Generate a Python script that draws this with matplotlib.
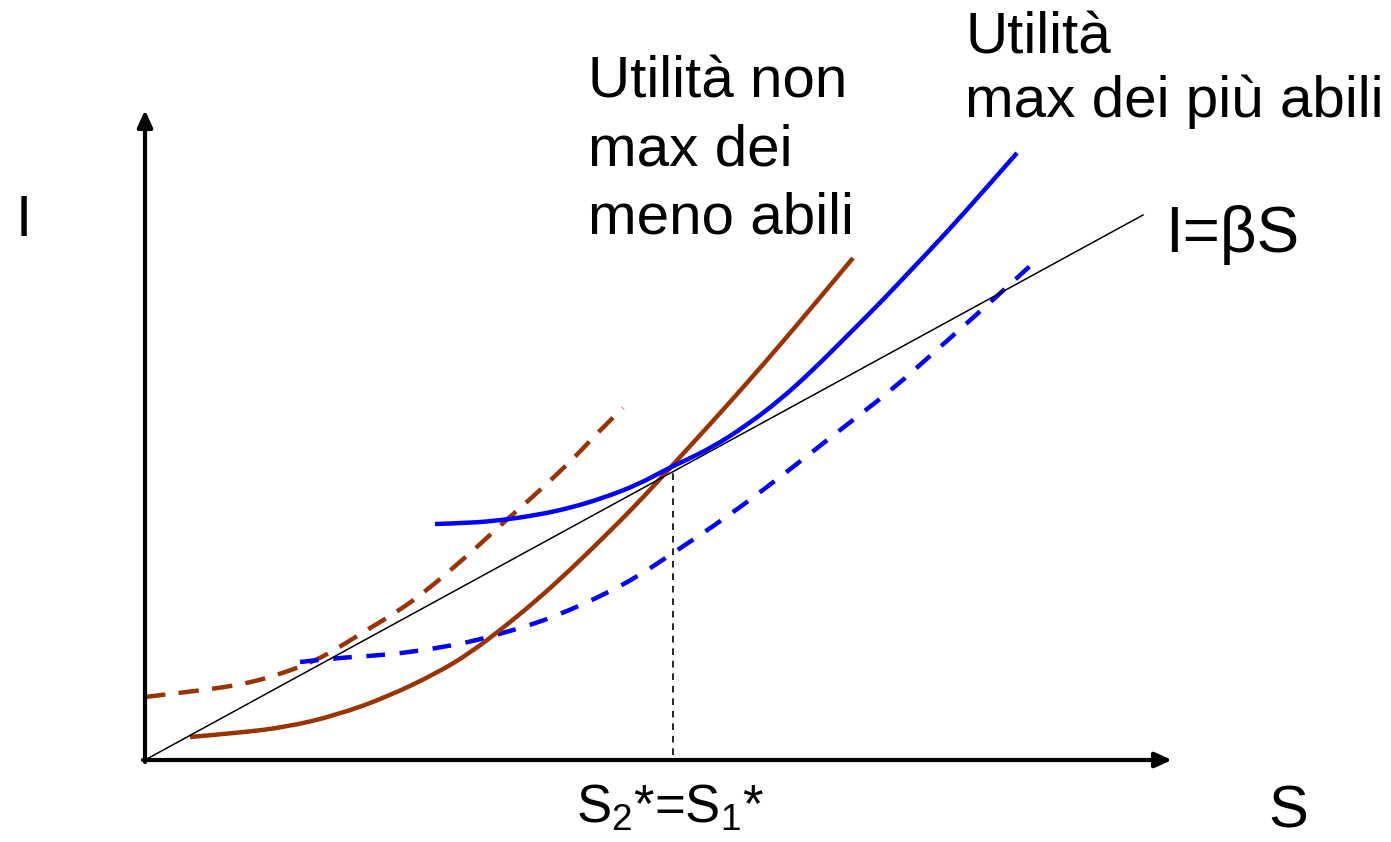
import matplotlib
matplotlib.use("Agg")
import matplotlib.pyplot as plt
from matplotlib.path import Path
from matplotlib.patches import PathPatch

plt.rcParams['font.family'] = ['Liberation Sans', 'DejaVu Sans']
plt.rcParams['mathtext.fontset'] = 'custom'
plt.rcParams['mathtext.rm'] = 'Liberation Sans'
plt.rcParams['mathtext.it'] = 'Liberation Sans'

BROWN = "#993300"
BLUE = "#0000ff"

# curve points (S, I), origin at the axes corner
line_S = [0, 998]
line_I = [0, 545]

blue_S = [290, 325, 358, 392, 425, 458, 492, 522, 535, 568, 602, 635, 668, 702, 735, 768, 802, 835, 872]
blue_I = [236, 237, 240, 245, 252, 262, 275, 291, 297, 313, 335, 360, 390, 424, 457, 492, 528, 565, 607]

blue_dash_S = [155, 192, 225, 258, 292, 325, 358, 392, 425, 458, 492, 528, 582, 638, 695, 748, 795, 848, 885]
blue_dash_I = [98, 102, 104, 107, 112, 118, 127, 137, 150, 165, 183, 207, 243, 285, 330, 371, 413, 460, 494]

brown_S = [45, 92, 142, 192, 242, 292, 325, 358, 392, 425, 458, 492, 525, 568, 602, 635, 668, 708]
brown_I = [23, 27, 33, 45, 63, 87, 107, 132, 160, 190, 222, 256, 292, 339, 377, 415, 454, 502]

brown_dash_S = [0, 33, 75, 108, 138, 168, 198, 225, 255, 282, 308, 332, 358, 382, 408, 432, 455, 478]
brown_dash_I = [63, 67, 72, 78, 87, 98, 115, 132, 150, 170, 192, 213, 237, 258, 282, 305, 330, 352]

S_star = 528


def smooth_curve(ax, xs, ys, **kw):
    # quadratic bezier pieces through the read points, drawn as one path
    pts = list(zip(xs, ys))
    verts = [pts[0]]
    codes = [Path.MOVETO]
    for i in range(1, len(pts) - 1):
        nxt = pts[-1] if i == len(pts) - 2 else ((pts[i][0] + pts[i + 1][0]) / 2,
                                                  (pts[i][1] + pts[i + 1][1]) / 2)
        verts += [pts[i], nxt]
        codes += [Path.CURVE3, Path.CURVE3]
    patch = PathPatch(Path(verts, codes), fill=False, capstyle='butt', **kw)
    ax.add_patch(patch)
    return patch


fig = plt.figure(figsize=(13.91, 8.42), dpi=100)
ax = fig.add_axes([0, 0, 1, 1])
ax.set_xlim(-145, 1391 - 145)
ax.set_ylim(760 - 842, 760)
ax.axis('off')

# axes with arrows
ax.annotate('', xy=(1027, 0), xytext=(-2, 0),
            arrowprops=dict(arrowstyle='-|>,head_length=1.0,head_width=0.45',
                            lw=3, color='black', shrinkA=0, shrinkB=0))
ax.annotate('', xy=(0, 650), xytext=(0, -2),
            arrowprops=dict(arrowstyle='-|>,head_length=1.0,head_width=0.45',
                            lw=3, color='black', shrinkA=0, shrinkB=0))

ax.plot(line_S, line_I, color='black', lw=1.1)

smooth_curve(ax, brown_dash_S, brown_dash_I, edgecolor=BROWN, lw=3.2, linestyle=(0, (4.6, 3.0)))
smooth_curve(ax, blue_dash_S, blue_dash_I, edgecolor=BLUE, lw=3.2, linestyle=(0, (4.2, 3.3)))
smooth_curve(ax, brown_S, brown_I, edgecolor=BROWN, lw=3.2)
smooth_curve(ax, blue_S, blue_I, edgecolor=BLUE, lw=3.2)

ax.plot([S_star, S_star], [5, 288], color='black', lw=1.2, dashes=(4, 3.5))

# labels
fs = 42
ax.text(443, 663, "Utilità non", fontsize=fs, va='baseline')
ax.text(443, 595, "max dei", fontsize=fs, va='baseline')
ax.text(443, 527, "meno abili", fontsize=fs, va='baseline')
ax.text(820, 707, "Utilità", fontsize=fs, va='baseline')
ax.text(820, 643, "max dei più abili", fontsize=fs, va='baseline')
ax.text(1020, 508, "I=βS", fontsize=46, va='baseline')
ax.text(-129, 524, "I", fontsize=42, va='baseline')
ax.text(1123, -67, "S", fontsize=43, va='baseline')
ax.text(431, -63, r"S$_2$*=S$_1$*", fontsize=38, va='baseline')

fig.savefig("out.png", dpi=100)
